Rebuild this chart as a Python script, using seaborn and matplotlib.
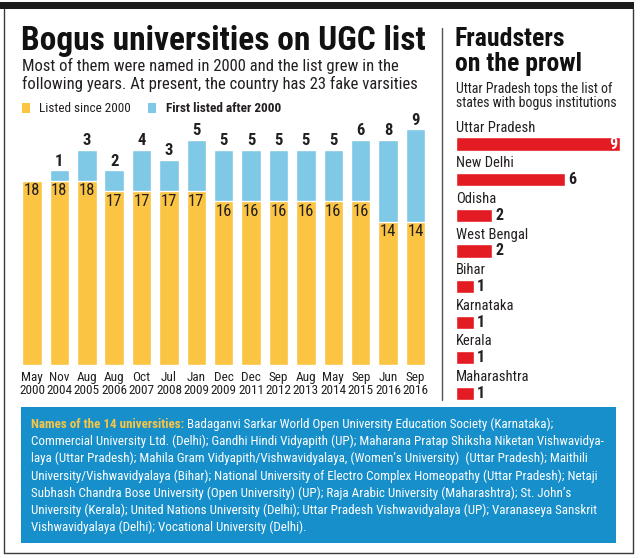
import matplotlib
matplotlib.use("Agg")
import matplotlib.pyplot as plt
from matplotlib.patches import Rectangle
from matplotlib.lines import Line2D
import seaborn as sns
import pandas as pd

# ---------------- data ----------------
dates = ["May\n2000", "Nov\n2004", "Aug\n2005", "Aug\n2006", "Oct\n2007", "Jul\n2008",
         "Jan\n2009", "Dec\n2009", "Dec\n2011", "Sep\n2012", "Aug\n2013", "May\n2014",
         "Sep\n2015", "Jun\n2016", "Sep\n2016"]
listed_since_2000 = [18, 18, 18, 17, 17, 17, 17, 16, 16, 16, 16, 16, 16, 14, 14]
first_listed_after = [0, 1, 3, 2, 4, 3, 5, 5, 5, 5, 5, 5, 6, 8, 9]

states = ["Uttar Pradesh", "New Delhi", "Odisha", "West Bengal", "Bihar",
          "Karnataka", "Kerala", "Maharashtra"]
state_counts = [9, 6, 2, 2, 1, 1, 1, 1]

title = "Bogus universities on UGC list"
subtitle = ["Most of them were named in 2000 and the list grew in the",
            "following years. At present, the country has 23 fake varsities"]
legend_labels = ["Listed since 2000", "First listed after 2000"]
right_title = ["Fraudsters", "on the prowl"]
right_sub = ["Uttar Pradesh tops the list of", "states with bogus institutions"]
box_head = "Names of the 14 universities:"
box_lines = [
    " Badaganvi Sarkar World Open University Education Society (Karnataka);",
    "Commercial University Ltd. (Delhi); Gandhi Hindi Vidyapith (UP); Maharana Pratap Shiksha Niketan Vishwavidya-",
    "laya (Uttar Pradesh); Mahila Gram Vidyapith/Vishwavidyalaya, (Women\u2019s University)  (Uttar Pradesh); Maithili",
    "University/Vishwavidyalaya (Bihar); National University of Electro Complex Homeopathy (Uttar Pradesh); Netaji",
    "Subhash Chandra Bose University (Open University) (UP); Raja Arabic University (Maharashtra); St. John\u2019s",
    "University (Kerala); United Nations University (Delhi); Uttar Pradesh Vishwavidyalaya (UP); Varanaseya Sanskrit",
    "Vishwavidyalaya (Delhi); Vocational University (Delhi).",
]

# ---------------- style ----------------
YELLOW = "#fbc443"
BLUE = "#7fc8e6"
RED = "#e31b23"
BOXBLUE = "#168fcb"
HEADCOL = "#f7c545"
INK = "#231f20"

sns.set_theme(style="white")
FONTS = ["Roboto Condensed", "Liberation Sans Narrow", "DejaVu Sans"]
plt.rcParams["font.family"] = FONTS

W, H = 640, 558
fig = plt.figure(figsize=(W / 100, H / 100), dpi=100)
fig.patch.set_facecolor("white")

def fx(x):
    return x / W

def fy(y):
    return 1 - y / H

# frame
fig.add_artist(Rectangle((fx(0), fy(9)), fx(634), 7 / H, transform=fig.transFigure,
                         color="#1c1c1c", lw=0))
for (x0, y0, x1, y1) in [(4, 9, 4, 553), (633, 9, 633, 553), (4, 553, 633, 553)]:
    fig.add_artist(Line2D([fx(x0), fx(x1)], [fy(y0), fy(y1)], transform=fig.transFigure,
                          color="#3a3a3a", lw=1))
fig.add_artist(Line2D([fx(442), fx(442)], [fy(28), fy(400)], transform=fig.transFigure,
                      color="#555555", lw=1))

# ---------------- left: stacked bars ----------------
df = pd.DataFrame({"date": dates, "since": listed_since_2000, "after": first_listed_after})
df["total"] = df["since"] + df["after"]

ax = fig.add_axes([fx(18.3), fy(365), (429.2 - 18.3) / W, (365 - 119.2) / H])
sns.barplot(data=df, x="date", y="total", color=BLUE, saturation=1, width=0.71, ax=ax)
sns.barplot(data=df, x="date", y="since", color=YELLOW, saturation=1, width=0.71, ax=ax)
ax.set_ylim(0, 24)
ax.set_xlim(-0.5, len(dates) - 0.5)
ax.set_xlabel("")
ax.set_ylabel("")
ax.set_yticks([])
for s in ax.spines.values():
    s.set_visible(False)
ax.tick_params(axis="x", length=0, pad=4, labelsize=9.5, labelcolor=INK)
for lab in ax.get_xticklabels():
    lab.set_linespacing(1.05)
ax.patch.set_alpha(0)

for i, r in df.iterrows():
    ax.text(i, r["since"] - 1.0, str(r["since"]), ha="center", va="center",
            fontsize=12, color=INK)
    if r["after"] > 0:
        ax.text(i, r["total"] + 0.9, str(r["after"]), ha="center", va="center",
                fontsize=12, color=INK, fontweight="bold")

# titles left
fig.text(fx(21), fy(50), title, fontsize=24, fontweight="heavy", color="#111111",
         va="baseline", ha="left")
for k, line in enumerate(subtitle):
    fig.text(fx(22), fy(71 + 18 * k), line, fontsize=12, color=INK, va="baseline", ha="left")

# legend
fig.add_artist(Rectangle((fx(22), fy(113)), 8 / W, 10 / H, transform=fig.transFigure,
                         color=YELLOW, lw=0))
fig.text(fx(39), fy(112), legend_labels[0], fontsize=9.5, color=INK, va="baseline")
fig.add_artist(Rectangle((fx(148), fy(113)), 8 / W, 10 / H, transform=fig.transFigure,
                         color=BLUE, lw=0))
fig.text(fx(166), fy(112), legend_labels[1], fontsize=9.5, color=INK, va="baseline",
         fontweight="bold")

# ---------------- right: horizontal bars ----------------
sdf = pd.DataFrame({"state": states, "count": state_counts})
ax2 = fig.add_axes([fx(455.7), fy(411.3), 182.5 / W, (411.3 - 126.2) / H])
sns.barplot(data=sdf, y="state", x="count", orient="h", color=RED, saturation=1,
            width=0.37, ax=ax2)
ax2.set_xlim(0, 10)
ax2.set_ylim(len(states) - 0.5, -0.5)
ax2.set_xticks([])
ax2.set_yticks([])
ax2.set_xlabel("")
ax2.set_ylabel("")
for s in ax2.spines.values():
    s.set_visible(False)
ax2.patch.set_alpha(0)
for i, r in sdf.iterrows():
    ax2.text(0.0, i - 0.46, r["state"], ha="left", va="center", fontsize=10.5, color=INK)
    if i == 0:
        ax2.text(r["count"] - 0.12, i, str(r["count"]), ha="right", va="center",
                 fontsize=11.5, fontweight="bold", color="white")
    else:
        ax2.text(r["count"] + 0.18, i, str(r["count"]), ha="left", va="center",
                 fontsize=11.5, fontweight="bold", color=INK)

fig.text(fx(455), fy(46.5), right_title[0], fontsize=18.5, fontweight="heavy",
         color="#111111", va="baseline")
fig.text(fx(455), fy(70.5), right_title[1], fontsize=18.5, fontweight="heavy",
         color="#111111", va="baseline")
for k, line in enumerate(right_sub):
    fig.text(fx(456), fy(93 + 14.5 * k), line, fontsize=10, color=INK, va="baseline")

# ---------------- bottom box ----------------
BOXFS = 9.35
fig.add_artist(Rectangle((fx(21), fy(543)), (616 - 21) / W, (543 - 407) / H,
                         transform=fig.transFigure, color=BOXBLUE, lw=0))
head = fig.text(fx(31), fy(428), box_head, fontsize=BOXFS, fontweight="bold",
                color=HEADCOL, va="baseline")
renderer = fig.canvas.get_renderer()
hb = head.get_window_extent(renderer)
fig.text(hb.x1 / fig.bbox.width, fy(428), box_lines[0], fontsize=BOXFS, color="white",
         va="baseline")
for k, line in enumerate(box_lines[1:], start=1):
    fig.text(fx(31), fy(428 + 17.2 * k), line, fontsize=BOXFS, color="white", va="baseline")

fig.savefig("out.png", dpi=100)
